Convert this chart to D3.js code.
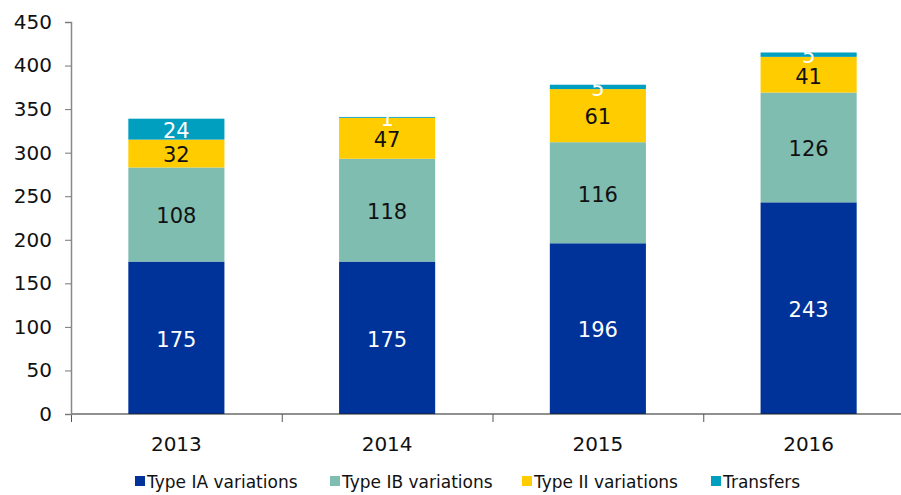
<!DOCTYPE html>
<html>
<head>
<meta charset="utf-8">
<script src="https://cdn.jsdelivr.net/npm/d3@7"></script>
<style>
  body { margin: 0; background: #fff; }
  text { font-family: "DejaVu Sans", Verdana, sans-serif; }
</style>
</head>
<body>
<div id="chart"></div>
<script>
const years = ["2013", "2014", "2015", "2016"];
const seriesNames = ["Type IA variations", "Type IB variations", "Type II variations", "Transfers"];
const typeIA = [175, 175, 196, 243];
const typeIB = [108, 118, 116, 126];
const typeII = [32, 47, 61, 41];
const transfers = [24, 1, 5, 5];
const yTicks = [0, 50, 100, 150, 200, 250, 300, 350, 400, 450];

const width = 901;
const height = 495;
const margin = { top: 22, right: -13, bottom: 81, left: 71 };

const colors = ["#00339a", "#7fbdb1", "#ffcc00", "#009ebf"];
const labelColors = ["#fff", "#111", "#111", "#fff"];

const data = years.map((y, i) => ({
  year: y,
  "Type IA variations": typeIA[i],
  "Type IB variations": typeIB[i],
  "Type II variations": typeII[i],
  "Transfers": transfers[i]
}));

const svg = d3.select("#chart")
  .append("svg")
  .attr("width", width)
  .attr("height", height);

const x = d3.scaleBand()
  .domain(years)
  .range([margin.left, width - margin.right])
  .paddingInner(0.544)
  .paddingOuter(0.272);

const y = d3.scaleLinear()
  .domain([0, 450])
  .range([height - margin.bottom, margin.top]);

const color = d3.scaleOrdinal().domain(seriesNames).range(colors);
const labelColor = d3.scaleOrdinal().domain(seriesNames).range(labelColors);

const stack = d3.stack().keys(seriesNames)(data);

const layers = svg.append("g")
  .selectAll("g")
  .data(stack)
  .join("g")
  .attr("fill", d => color(d.key));

layers.selectAll("rect")
  .data(d => d)
  .join("rect")
  .attr("x", d => x(d.data.year))
  .attr("y", d => y(d[1]))
  .attr("height", d => y(d[0]) - y(d[1]))
  .attr("width", x.bandwidth());

// valeurs dans les barres
svg.append("g")
  .selectAll("g")
  .data(stack)
  .join("g")
  .attr("fill", d => labelColor(d.key))
  .selectAll("text")
  .data(d => d)
  .join("text")
  .attr("x", d => x(d.data.year) + x.bandwidth() / 2)
  .attr("y", d => (y(d[0]) + y(d[1])) / 2)
  .attr("dy", "0.42em")
  .attr("text-anchor", "middle")
  .style("font-size", "21px")
  .text(d => d[1] - d[0]);

// axe x
const step = x.step();
const xAxis = svg.append("g");
xAxis.append("line")
  .attr("x1", margin.left).attr("x2", width)
  .attr("y1", y(0)).attr("y2", y(0))
  .attr("stroke", "#222").attr("stroke-width", 1.2);
xAxis.selectAll("line.tick")
  .data(years)
  .join("line")
  .attr("class", "tick")
  .attr("x1", d => x(d) - step * 0.272 + 0.5)
  .attr("x2", d => x(d) - step * 0.272 + 0.5)
  .attr("y1", y(0)).attr("y2", y(0) + 8)
  .attr("stroke", "#555");
xAxis.selectAll("text")
  .data(years)
  .join("text")
  .attr("x", d => x(d) + x.bandwidth() / 2)
  .attr("y", y(0) + 37)
  .attr("text-anchor", "middle")
  .attr("fill", "#111")
  .style("font-size", "20px")
  .text(d => d);

// axe y
const yAxis = svg.append("g")
  .attr("transform", `translate(${margin.left},0)`)
  .call(d3.axisLeft(y).tickValues(yTicks).tickSize(6).tickPadding(13));
yAxis.select(".domain").attr("stroke", "#888").attr("stroke-width", 1.5);
yAxis.selectAll(".tick line").attr("stroke", "#777");
yAxis.selectAll(".tick text")
  .attr("fill", "#111")
  .style("font-family", "'DejaVu Sans', Verdana, sans-serif")
  .style("font-size", "20px");

// légende
const legendX = [135, 330, 522, 711];
const legend = svg.append("g")
  .attr("transform", `translate(0, ${height - 8})`);
seriesNames.forEach((s, i) => {
  const g = legend.append("g").attr("transform", `translate(${legendX[i]},0)`);
  g.append("rect").attr("y", -11).attr("width", 10).attr("height", 10).attr("fill", color(s));
  g.append("text").attr("x", 12).attr("y", 1).style("font-size", "17px").attr("fill", "#111").text(s);
});
</script>
</body>
</html>
